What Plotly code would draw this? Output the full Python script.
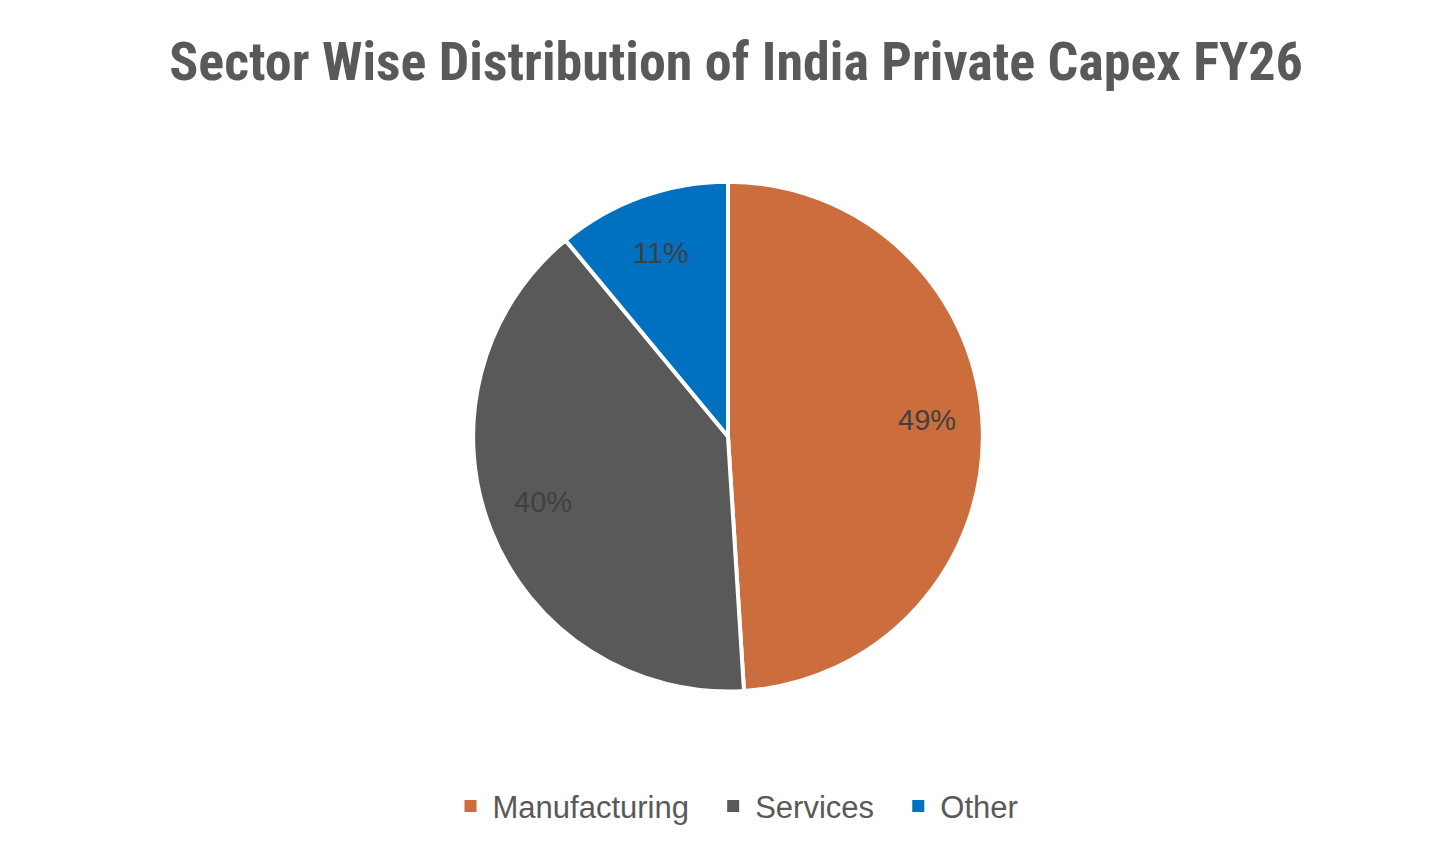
import math
import plotly.graph_objects as go

sectors = ["Manufacturing", "Services", "Other"]
shares = [49, 40, 11]
colors = ["#CC6D3D", "#595959", "#0070C0"]

W, H = 1456, 864
dom_x = [0.0, 0.989]
dom_y = [0.209, 0.799]

fig = go.Figure()
fig.add_trace(go.Pie(
    labels=sectors,
    values=shares,
    sort=False,
    direction="clockwise",
    rotation=0,
    marker=dict(colors=colors, line=dict(color="white", width=4)),
    textinfo="none",
    domain=dict(x=dom_x, y=dom_y),
    showlegend=False,
    hoverinfo="label+percent",
))

# legend entries with larger square swatches
for i, (name, col) in enumerate(zip(sectors, colors)):
    pad = "\u00a0\u00a0" if i < len(sectors) - 1 else ""
    fig.add_trace(go.Scatter(
        x=[None], y=[None], mode="markers", name=name + pad,
        marker=dict(symbol="square", size=12, color=col, line=dict(width=0)),
        showlegend=True,
    ))

# percentage labels positioned at the mid-angle of each slice
cx_px = (dom_x[0] + dom_x[1]) / 2 * W
cy_px = H - (dom_y[0] + dom_y[1]) / 2 * H
r_px = min((dom_x[1] - dom_x[0]) * W, (dom_y[1] - dom_y[0]) * H) / 2
total = sum(shares)
cum = 0
for v in shares:
    mid = (cum + v / 2) / total * 2 * math.pi
    cum += v
    lx = cx_px + 0.78 * r_px * math.sin(mid)
    ly = cy_px - 0.8 * r_px * math.cos(mid) - 10
    fig.add_annotation(
        x=lx / W, y=1 - ly / H, xref="paper", yref="paper",
        text=f"{v / total:.0%}", showarrow=False,
        font=dict(family="Liberation Sans, Arial", size=29, color="#404040"),
    )

fig.update_layout(
    width=W, height=H,
    paper_bgcolor="white", plot_bgcolor="white",
    margin=dict(l=0, r=0, t=0, b=0),
    xaxis=dict(visible=False),
    yaxis=dict(visible=False),
    title=dict(
        text="<b>Sector Wise Distribution of India Private Capex FY26</b>",
        x=0.5, xanchor="center", y=0.938, yanchor="middle",
        font=dict(family="Liberation Sans Narrow, Roboto Condensed, Arial Narrow, sans-serif", size=54, color="#595959"),
    ),
    legend=dict(
        orientation="h", x=0.5, xanchor="center", y=0.076, yanchor="middle",
        font=dict(family="Liberation Sans Narrow, Arial Narrow, sans-serif", size=31, color="#595959"),
        itemwidth=34,
    ),
)

fig.write_html("out.html")
